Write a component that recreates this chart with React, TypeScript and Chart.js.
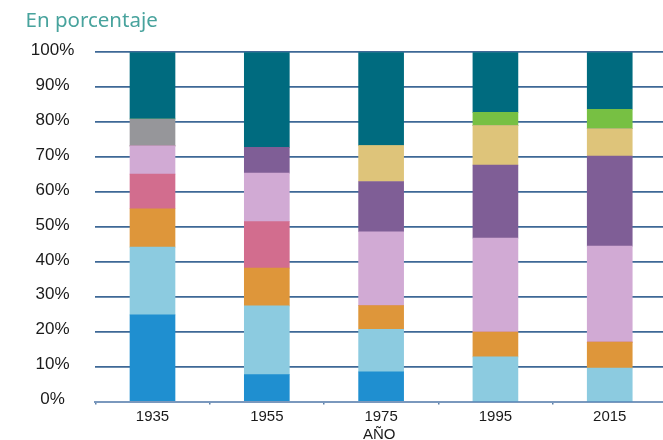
import React, { useEffect, useRef } from "react";
import { Chart, registerables } from "chart.js";

Chart.register(...registerables);

const years = ["1935", "1955", "1975", "1995", "2015"];
const seriesNames = [
  "Grupo 1",
  "Grupo 2",
  "Grupo 3",
  "Grupo 4",
  "Grupo 5",
  "Grupo 6",
  "Grupo 7",
  "Grupo 8",
  "Grupo 9",
  "Grupo 10",
];
const seriesColors = [
  "#1f8fd0",
  "#8ccbe0",
  "#de963a",
  "#d26d8e",
  "#d1aad4",
  "#7f5e96",
  "#dec47a",
  "#96969a",
  "#77c043",
  "#006b7f",
];
const s1 = [24.8, 7.7, 8.5, 0, 0];
const s2 = [19.4, 19.7, 12.2, 12.8, 9.6];
const s3 = [11.0, 10.8, 6.8, 7.1, 7.4];
const s4 = [9.9, 13.3, 0, 0, 0];
const s5 = [8.1, 13.9, 21.1, 26.9, 27.5];
const s6 = [0, 7.4, 14.4, 20.9, 25.8];
const s7 = [0, 0, 10.3, 11.3, 7.8];
const s8 = [7.7, 0, 0, 0, 0];
const s9 = [0, 0, 0, 3.8, 5.6];
const s10 = [19.1, 27.2, 26.7, 17.2, 16.3];
const seriesValues = [s1, s2, s3, s4, s5, s6, s7, s8, s9, s10];
const yTicks = [0, 10, 20, 30, 40, 50, 60, 70, 80, 90, 100];

export default function App() {
  const ref = useRef<HTMLCanvasElement | null>(null);

  useEffect(() => {
    if (!ref.current) return;
    const chart = new Chart(ref.current, {
      type: "bar",
      data: {
        datasets: seriesValues.map((vals, k) => ({
          label: seriesNames[k],
          data: vals.map((v, i) => ({ x: i, y: v })),
          backgroundColor: seriesColors[k],
          borderWidth: 0,
          barThickness: 45,
        })),
      },
      options: {
        animation: false,
        responsive: false,
        layout: { padding: { top: 52.3, left: 0, right: 0, bottom: 0 } },
        plugins: { legend: { display: false }, tooltip: { enabled: false } },
        scales: {
          x: {
            type: "linear",
            stacked: true,
            offset: false,
            min: -0.5,
            max: 4.466,
            bounds: "data",
            afterBuildTicks: (axis: any) => {
              const t: any[] = [];
              for (let v = -0.5; v <= 4.01; v += 0.5) t.push({ value: v });
              axis.ticks = t;
            },
            afterFit: (scale: any) => {
              scale.height = 38.5;
            },
            ticks: {
              autoSkip: false,
              maxRotation: 0,
              padding: 3,
              color: "#1a1a1a",
              font: { family: "'Liberation Sans', Arial, sans-serif", size: 15 },
              callback: (value: any) => {
                const v = Number(value);
                return Number.isInteger(v) ? years[v] : "";
              },
            },
            grid: {
              offset: false,
              drawOnChartArea: false,
              drawTicks: true,
              tickLength: 3,
              lineWidth: 1.5,
              color: (ctx: any) =>
                ctx.tick && Number.isInteger(ctx.tick.value) ? "rgba(0,0,0,0)" : "#5a7fa8",
            },
            border: { display: true, color: "#7a98bd", width: 2 },
            title: {
              display: true,
              text: "AÑO",
              color: "#1a1a1a",
              font: { family: "'Liberation Sans', Arial, sans-serif", size: 15 },
              padding: { top: 0, bottom: -3.4 },
            },
          },
          y: {
            stacked: true,
            min: 0,
            max: 100,
            afterBuildTicks: (axis: any) => {
              axis.ticks = yTicks.map((v) => ({ value: v }));
            },
            afterFit: (scale: any) => {
              scale.width = 95.35;
            },
            ticks: {
              crossAlign: "center",
              padding: 21,
              labelOffset: -2,
              color: "#1a1a1a",
              font: { family: "'Liberation Sans', Arial, sans-serif", size: 17 },
              callback: (value: any) => value + "%",
            },
            grid: {
              drawTicks: false,
              lineWidth: 1.7,
              color: (ctx: any) =>
                ctx.tick && ctx.tick.value === 0 ? "rgba(0,0,0,0)" : "#3e6896",
            },
            border: { display: false },
          },
        },
      },
    });
    return () => chart.destroy();
  }, []);

  return (
    <div style={{ position: "absolute", left: 0, top: 0, width: 663, height: 440, background: "#fff" }}>
      <canvas ref={ref} width={663} height={440} style={{ display: "block" }} />
      <div
        style={{
          position: "absolute",
          left: 25.5,
          top: 8.5,
          fontFamily: "'Noto Sans', sans-serif",
          fontSize: 20.5,
          lineHeight: 1,
          color: "#48a39d",
          whiteSpace: "nowrap",
        }}
      >
        En porcentaje
      </div>
    </div>
  );
}
